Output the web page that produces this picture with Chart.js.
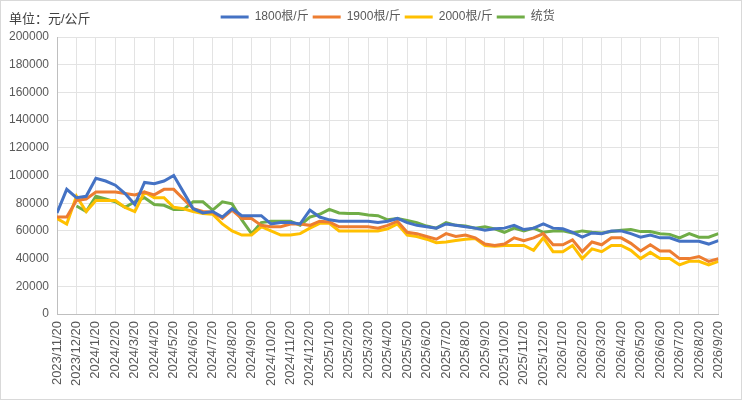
<!DOCTYPE html>
<html>
<head>
<meta charset="utf-8">
<script src="https://cdn.jsdelivr.net/npm/chart.js@4/dist/chart.umd.min.js"></script>
<style>
  html, body { margin: 0; padding: 0; background: #fff; }
  #wrap { position: relative; width: 742px; height: 400px; box-sizing: border-box; border: 1px solid #d9d9d9; }
  #unit { position: absolute; left: 8px; top: 7px; font: 13px 'Liberation Sans', 'Noto Sans CJK SC', sans-serif; color: #404040; }
</style>
</head>
<body>
<div id="wrap">
  <div id="unit">单位：元/公斤</div>
  <canvas id="graph" width="740" height="398"></canvas>
</div>
<script>
// month labels on the x axis, two readings per month
const months = [
    '2023/11/20', '2023/12/20', '2024/1/20', '2024/2/20', '2024/3/20', '2024/4/20',
    '2024/5/20', '2024/6/20', '2024/7/20', '2024/8/20', '2024/9/20', '2024/10/20',
    '2024/11/20', '2024/12/20', '2025/1/20', '2025/2/20', '2025/3/20', '2025/4/20',
    '2025/5/20', '2025/6/20', '2025/7/20', '2025/8/20', '2025/9/20', '2025/10/20',
    '2025/11/20', '2025/12/20', '2026/1/20', '2026/2/20', '2026/3/20', '2026/4/20',
    '2026/5/20', '2026/6/20', '2026/7/20', '2026/8/20', '2026/9/20'
];

const names = ['1800根/斤', '1900根/斤', '2000根/斤', '统货'];

const s1800 = [
    73000, 90000, 84000, 85000, 98000, 96000, 93000, 87000, 79000, 95000,
    94000, 96000, 100000, 88000, 76000, 73000, 74000, 70000, 76000, 71000,
    71000, 71000, 65000, 66000, 66000, 65000, 75000, 70000, 68000, 67000,
    67000, 67000, 67000, 66000, 67000, 69000, 66000, 64000, 63000, 62000,
    65000, 64000, 63000, 62000, 60500, 61500, 62000, 64000, 61000, 62000,
    65000, 62000, 61500, 59000, 55500, 58500, 58000, 60000, 60000, 58000,
    55500, 57000, 55000, 55000, 52500, 52500, 52500, 50500, 53000
];
const s1900 = [
    70000, 70000, 82000, 83000, 88000, 88000, 88000, 87000, 86000, 88000,
    86000, 90000, 90000, 83000, 76000, 74000, 73500, 69000, 75000, 69000,
    69000, 64000, 63000, 63000, 65000, 65000, 64000, 67000, 66500, 63000,
    63000, 63000, 63000, 62000, 64000, 67000, 59000, 58000, 56000, 54000,
    58000, 56000, 57000, 55000, 50500, 49500, 50500, 55000, 53000, 55000,
    58000, 50000, 50000, 53500, 45000, 52000, 50000, 55000, 55000, 51000,
    45500, 50000, 45500, 45500, 40000, 40000, 41500, 38000, 40000
];
const s2000 = [
    69000, 65000, 85000, 74000, 82000, 82000, 82000, 77000, 74000, 88000,
    84000, 84000, 77000, 76000, 74000, 72500, 72000, 65000, 60000, 57000,
    57000, 63000, 60000, 57000, 57000, 58000, 62000, 65500, 65500, 60000,
    60000, 60000, 60000, 60000, 61500, 65000, 57000, 56000, 54000, 51500,
    52000, 53000, 54000, 54500, 49500, 49000, 49500, 49500, 49500, 46000,
    55000, 45000, 45000, 49500, 40000, 47000, 45000, 49500, 49500, 46000,
    40000, 44500, 40000, 40000, 35500, 38000, 38000, 35500, 38000
];
const sTonghuo = [
    null, null, 78000, 74000, 85000, 83000, 81000, 77000, 81000, 84000,
    79000, 78500, 75500, 75500, 81000, 81000, 75000, 81000, 79500, 68000,
    58000, 66000, 67000, 67000, 67000, 64000, 70000, 72000, 75500, 73000,
    72500, 72500, 71500, 71000, 68000, 69000, 67500, 66000, 63500, 62000,
    66000, 64000, 63500, 62000, 63000, 61500, 59000, 62000, 60000, 62000,
    59000, 60000, 60000, 58500, 60000, 59000, 58500, 59500, 60500, 61000,
    59500, 59500, 58000, 57500, 55000, 58000, 55500, 55500, 58000
];

const colors = ['#4472C4', '#ED7D31', '#FFC000', '#70AD47'];
const font = "'Liberation Sans', 'Noto Sans CJK SC', sans-serif";

function toPoints(values) {
    return values.map((v, i) => ({x: i / 2, y: v}));
}

const legendGap = {
    id: 'legendGap',
    beforeInit(chart) {
        const fit = chart.legend.fit;
        chart.legend.fit = function () {
            fit.call(this);
            this.height += 4;
        };
    }
};

window.addEventListener('DOMContentLoaded', () => {
    const graph = document.getElementById('graph');
    const series = [s1800, s1900, s2000, sTonghuo];
    new Chart(graph, {
        type: 'line',
        data: {
            datasets: series.map((values, i) => ({
                label: names[i],
                data: toPoints(values),
                borderColor: colors[i],
                backgroundColor: colors[i],
                borderWidth: 3,
                pointRadius: 0,
                tension: 0,
                spanGaps: false
            }))
        },
        options: {
            responsive: false,
            animation: false,
            layout: {padding: {left: 0, right: 13, top: 6, bottom: 0}},
            plugins: {
                tooltip: {enabled: false},
                legend: {
                    fullSize: false,
                    labels: {
                        usePointStyle: true,
                        pointStyle: 'line',
                        pointStyleWidth: 28,
                        boxHeight: 12,
                        padding: 4,
                        color: '#595959',
                        font: {family: font, size: 12}
                    }
                }
            },
            scales: {
                x: {
                    type: 'linear',
                    min: 0,
                    max: 34,
                    afterFit: (s) => { s.height = 85; },
                    ticks: {
                        stepSize: 1,
                        autoSkip: false,
                        minRotation: 90,
                        maxRotation: 90,
                        padding: 7,
                        color: '#595959',
                        font: {family: font, size: 13},
                        callback: (v) => months[v]
                    },
                    grid: {color: '#e3e3e3', drawTicks: false},
                    border: {color: '#bfbfbf'}
                },
                y: {
                    min: 0,
                    max: 200000,
                    afterFit: (s) => { s.width = 56; },
                    ticks: {
                        stepSize: 20000,
                        padding: 8,
                        color: '#595959',
                        font: {family: font, size: 12},
                        callback: (v) => String(v)
                    },
                    grid: {color: '#e3e3e3', drawTicks: false},
                    border: {color: '#bfbfbf'}
                }
            }
        },
        plugins: [legendGap]
    });
});
</script>
</body>
</html>
